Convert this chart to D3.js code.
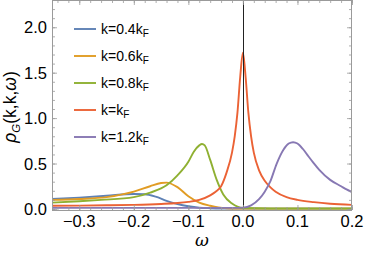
<!DOCTYPE html>
<html><head><meta charset="utf-8">
<script src="https://cdn.jsdelivr.net/npm/d3@7/dist/d3.min.js"></script>
<style>body{margin:0;background:#fff;}svg{display:block;}</style>
</head><body>
<svg id="c" width="366" height="255"></svg>
<script>
// ---- data ----
const xTicks = [-0.3, -0.2, -0.1, 0.0, 0.1, 0.2];
const yTicks = [0.0, 0.5, 1.0, 1.5, 2.0];
const labels = ["k=0.4k", "k=0.6k", "k=0.8k", "k=k", "k=1.2k"];
const colors = ["#5E81B5", "#E19C24", "#8FB032", "#EB6235", "#8778B3"];

const omegaBlue   = [-0.35,-0.3,-0.25,-0.2,-0.18,-0.16,-0.14,-0.12,-0.1,-0.08,-0.06,-0.04,0,0.1,0.2];
const rhoBlue     = [0.11,0.125,0.145,0.165,0.162,0.135,0.09,0.055,0.03,0.014,0.008,0.005,0.004,0.004,0.004];
const omegaOrange = [-0.35,-0.3,-0.25,-0.2,-0.17,-0.15,-0.14,-0.12,-0.1,-0.08,-0.06,-0.045,-0.03,-0.01,0.05,0.2];
const rhoOrange   = [0.10,0.11,0.13,0.19,0.25,0.285,0.29,0.24,0.14,0.07,0.035,0.017,0.008,0.005,0.004,0.004];
const omegaGreen  = [-0.35,-0.3,-0.26,-0.2,-0.17,-0.14,-0.12,-0.1,-0.09,-0.08,-0.075,-0.07,-0.06,-0.048,-0.036,-0.02,-0.01,0,0.05,0.2];
const rhoGreen    = [0.07,0.085,0.10,0.13,0.18,0.26,0.37,0.52,0.63,0.70,0.715,0.70,0.54,0.32,0.16,0.06,0.025,0.01,0.005,0.005];
const omegaRed    = [-0.35,-0.3,-0.25,-0.2,-0.15,-0.12,-0.1,-0.08,-0.06,-0.05,-0.04,-0.03,-0.02,-0.015,-0.01,-0.005,0,0.005,0.01,0.015,0.02,0.03,0.04,0.05,0.06,0.08,0.1,0.13,0.16,0.2];
const rhoRed      = [0.035,0.037,0.04,0.045,0.055,0.065,0.078,0.10,0.15,0.19,0.25,0.40,0.62,0.80,1.06,1.45,1.72,1.45,1.06,0.80,0.62,0.42,0.31,0.24,0.19,0.13,0.10,0.075,0.058,0.045];
const omegaPurple = [-0.35,-0.2,-0.1,-0.05,-0.02,0,0.015,0.03,0.04,0.05,0.062,0.074,0.084,0.092,0.1,0.11,0.12,0.129,0.14,0.16,0.18,0.19,0.2];
const rhoPurple   = [0.012,0.012,0.012,0.012,0.012,0.015,0.04,0.11,0.19,0.30,0.50,0.65,0.72,0.735,0.72,0.66,0.58,0.51,0.43,0.32,0.25,0.215,0.185];

const series = [
  {om: omegaBlue, v: rhoBlue},
  {om: omegaOrange, v: rhoOrange},
  {om: omegaGreen, v: rhoGreen},
  {om: omegaRed, v: rhoRed},
  {om: omegaPurple, v: rhoPurple}
];

// ---- layout ----
const L = 52, R = 352, T = 0, B = 210;
const svg = d3.select("#c");
const x = d3.scaleLinear().domain([-0.35, 0.2]).range([L, R]);
const y = d3.scaleLinear().domain([-0.0115, 2.3]).range([B, T]);

const defs = svg.append("defs");
defs.append("clipPath").attr("id","clip").append("rect")
  .attr("x", L).attr("y", T).attr("width", R-L).attr("height", B-T);

// curves
const line = d3.line().x(d => x(d[0])).y(d => y(d[1])).curve(d3.curveMonotoneX);
const g = svg.append("g").attr("clip-path","url(#clip)");
series.forEach((s, i) => {
  const pts = s.om.map((o, j) => [o, s.v[j]]);
  g.append("path").attr("d", line(pts)).attr("fill","none")
    .attr("stroke", colors[i]).attr("stroke-width", 1.9).attr("stroke-linejoin","round");
});

// vertical line at omega = 0
const x0 = Math.round(x(0)) + 0.5;
svg.append("line").attr("x1", x0).attr("x2", x0).attr("y1", T).attr("y2", B)
  .attr("stroke", "#222").attr("stroke-width", 1);

// frame + ticks (inward)
const frameColor = "#9a9a9a";
const axB = d3.axisBottom(x).tickValues(d3.range(-0.34, 0.2001, 0.02)).tickSize(-3).tickFormat("");
const axBmaj = d3.axisBottom(x).tickValues(xTicks).tickSize(-5).tickFormat("");
const axT = d3.axisTop(x).tickValues(d3.range(-0.34, 0.2001, 0.02)).tickSize(-3).tickFormat("");
const axTmaj = d3.axisTop(x).tickValues(xTicks).tickSize(-5).tickFormat("");
const yMinor = d3.range(0, 2.301, 0.1);
const axL = d3.axisLeft(y).tickValues(yMinor).tickSize(-3).tickFormat("");
const axLmaj = d3.axisLeft(y).tickValues(yTicks).tickSize(-5).tickFormat("");
const axR = d3.axisRight(y).tickValues(yMinor).tickSize(-3).tickFormat("");
const axRmaj = d3.axisRight(y).tickValues(yTicks).tickSize(-5).tickFormat("");
[[axB,`translate(0,${B})`],[axBmaj,`translate(0,${B})`],[axT,`translate(0,${T})`],[axTmaj,`translate(0,${T})`],
 [axL,`translate(${L},0)`],[axLmaj,`translate(${L},0)`],[axR,`translate(${R},0)`],[axRmaj,`translate(${R},0)`]]
 .forEach(([a,t]) => {
   const gg = svg.append("g").attr("transform", t).call(a);
   gg.selectAll("path").remove();
   gg.selectAll("line").attr("stroke", frameColor).attr("stroke-width", 0.8);
 });
svg.append("rect").attr("x", L+0.5).attr("y", T+0.5).attr("width", R-L-1).attr("height", B-T)
  .attr("fill","none").attr("stroke", frameColor).attr("stroke-width", 1);

// tick labels
const fam = "'Liberation Sans', Arial, Helvetica, sans-serif";
xTicks.forEach(t => {
  svg.append("text").attr("x", x(t)).attr("y", 227).attr("text-anchor","middle")
    .attr("font-family", fam).attr("font-size", 16.5).attr("fill","#000")
    .text(t < 0 ? "\u2212" + Math.abs(t).toFixed(1) : t.toFixed(1));
});
yTicks.forEach(t => {
  svg.append("text").attr("x", 47).attr("y", y(t) + 6).attr("text-anchor","end")
    .attr("font-family", fam).attr("font-size", 16.5).attr("fill","#000")
    .text(t.toFixed(1));
});

// axis labels
svg.append("text").attr("x", (L+R)/2).attr("y", 246).attr("text-anchor","middle")
  .attr("font-family", "'DejaVu Serif', 'Liberation Serif', serif").attr("font-style","italic")
  .attr("font-size", 17).text("\u03C9");
const yl = svg.append("text").attr("transform", `translate(16,107) rotate(-90)`)
  .attr("text-anchor","middle").attr("font-family", fam).attr("font-size", 17.5);
yl.append("tspan").attr("font-style","italic").text("\u03C1");
yl.append("tspan").attr("font-style","italic").attr("font-size", 11.5).attr("dy", 4).text("G");
yl.append("tspan").attr("dy", -4).text("(k,k,");
yl.append("tspan").attr("font-style","italic").text("\u03C9");
yl.append("tspan").text(")");

// legend
const legY = [29, 56, 83, 110, 137];
labels.forEach((lab, i) => {
  svg.append("line").attr("x1", 74).attr("x2", 96).attr("y1", legY[i]).attr("y2", legY[i])
    .attr("stroke", colors[i]).attr("stroke-width", 1.9);
  const t = svg.append("text").attr("x", 101).attr("y", legY[i] + 5)
    .attr("font-family", fam).attr("font-size", 14).attr("fill","#000");
  t.append("tspan").text(lab);
  t.append("tspan").attr("font-size", 10).attr("dy", 3).text("F");
});
</script>
</body></html>
